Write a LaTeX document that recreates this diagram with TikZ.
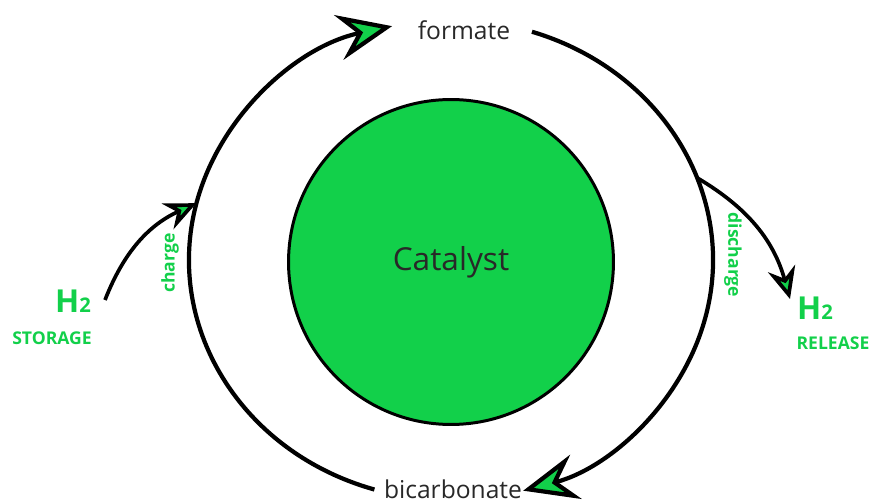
\documentclass[tikz,border=0pt]{standalone}
\usepackage{fontspec}
\setmainfont{Open Sans}
\usetikzlibrary{arrows.meta,calc}
\definecolor{cgreen}{RGB}{18,208,74}
\definecolor{tgray}{RGB}{40,40,40}
\begin{document}
\begin{tikzpicture}[x=0.02cm,y=0.02cm,
  lbl/.style={text=tgray, inner sep=0pt, font=\fontsize{14}{16}\selectfont},
  gl/.style={text=cgreen, inner sep=0pt, font=\bfseries\fontsize{10}{12}\selectfont},
  htwo/.style={text=cgreen, inner sep=0pt},
  ring/.style={line width=2.4pt, -{Stealth[length=31pt,width=26pt,inset=11pt,fill=cgreen]}},
  small/.style={line width=2.1pt, -{Stealth[length=18pt,width=16pt,inset=6pt,fill=cgreen]}},
]
\useasboundingbox (0,0) rectangle (870,-503);
\coordinate (c) at (451,-260);
% catalyst
\node[circle, draw, line width=1.7pt, fill=cgreen, minimum size=6.5cm, inner sep=0pt,
      text=tgray, font=\fontsize{18}{20}\selectfont] (cat) at (451,-262) {Catalyst};
% labels
\node[lbl] (formate) at (464,-30) {formate};
\node[lbl] (bicarb) at (453,-489) {bicarbonate};
\node[htwo, anchor=base] (h2s) at (73,-313) {{\bfseries\fontsize{18}{20}\selectfont H}{\bfseries\fontsize{11.5}{14}\selectfont 2}};
\node[gl] (storage) at (52,-338) {STORAGE};
\node[htwo, anchor=base] (h2r) at (815,-320) {{\bfseries\fontsize{18}{20}\selectfont H}{\bfseries\fontsize{11.5}{14}\selectfont 2}};
\node[gl] (release) at (833,-343) {RELEASE};
\node[gl, rotate=90] (charge) at (170,-263) {charge};
\node[gl, rotate=-90] (discharge) at (733,-255) {discharge};
% ring arcs
\coordinate (lstart) at ($(c)+(253:262 and 240)$);
\coordinate (rstart) at ($(c)+(72:262 and 240)$);
\draw[ring] (lstart) arc[start angle=253, end angle=103, x radius=262, y radius=240];
\draw[ring] (rstart) arc[start angle=72, end angle=-74, x radius=262, y radius=240];
% charge / discharge arrows
\coordinate (cs) at (105,-300);
\coordinate (ce) at ($(c)+(166.3:262 and 240)$);
\coordinate (ds) at ($(c)+(20:262 and 240)$);
\coordinate (de) at (790,-299);
\draw[small] (cs) to[bend left=22] (ce);
\draw[small] (ds) to[bend left=22] (de);
\end{tikzpicture}
\end{document}
